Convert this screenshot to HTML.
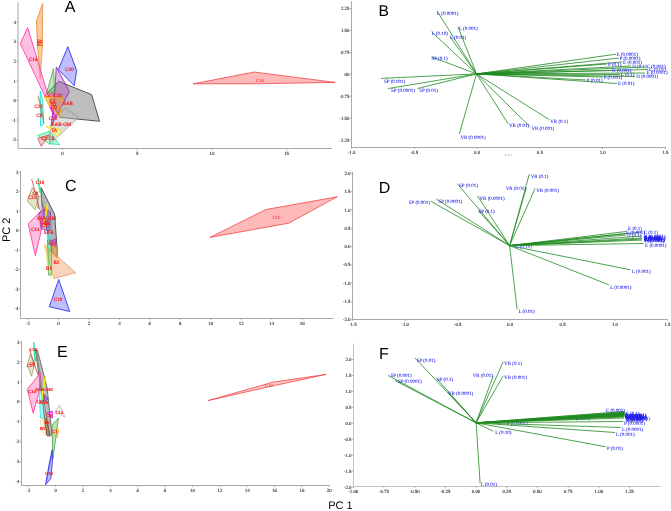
<!DOCTYPE html>
<html><head><meta charset="utf-8"><style>
html,body{margin:0;padding:0;background:#fff;}
body{width:671px;height:511px;overflow:hidden;}
svg{display:block;will-change:transform;text-rendering:geometricPrecision;}
</style></head><body>
<svg width="671" height="511" viewBox="0 0 671 511">
<rect width="671" height="511" fill="#fff"/>
<line x1="18" y1="2.3" x2="18" y2="148.5" stroke="#d0d0d0" stroke-width="2" />
<line x1="18" y1="148.5" x2="332" y2="148.5" stroke="#a8a8a8" stroke-width="1" />
<line x1="16.4" y1="22.3" x2="18" y2="22.3" stroke="#888" stroke-width="0.6" />
<text x="16" y="23.9" font-family="Liberation Serif" font-size="4.9" fill="#1a1a1a" text-anchor="end" stroke="#1a1a1a" stroke-width="0.08">4</text>
<line x1="16.4" y1="41.8" x2="18" y2="41.8" stroke="#888" stroke-width="0.6" />
<text x="16" y="43.4" font-family="Liberation Serif" font-size="4.9" fill="#1a1a1a" text-anchor="end" stroke="#1a1a1a" stroke-width="0.08">3</text>
<line x1="16.4" y1="61.4" x2="18" y2="61.4" stroke="#888" stroke-width="0.6" />
<text x="16" y="63" font-family="Liberation Serif" font-size="4.9" fill="#1a1a1a" text-anchor="end" stroke="#1a1a1a" stroke-width="0.08">2</text>
<line x1="16.4" y1="81" x2="18" y2="81" stroke="#888" stroke-width="0.6" />
<text x="16" y="82.5" font-family="Liberation Serif" font-size="4.9" fill="#1a1a1a" text-anchor="end" stroke="#1a1a1a" stroke-width="0.08">1</text>
<line x1="16.4" y1="100.5" x2="18" y2="100.5" stroke="#888" stroke-width="0.6" />
<text x="16" y="102.1" font-family="Liberation Serif" font-size="4.9" fill="#1a1a1a" text-anchor="end" stroke="#1a1a1a" stroke-width="0.08">0</text>
<line x1="16.4" y1="120" x2="18" y2="120" stroke="#888" stroke-width="0.6" />
<text x="16" y="121.6" font-family="Liberation Serif" font-size="4.9" fill="#1a1a1a" text-anchor="end" stroke="#1a1a1a" stroke-width="0.08">-1</text>
<line x1="16.4" y1="139.6" x2="18" y2="139.6" stroke="#888" stroke-width="0.6" />
<text x="16" y="141.2" font-family="Liberation Serif" font-size="4.9" fill="#1a1a1a" text-anchor="end" stroke="#1a1a1a" stroke-width="0.08">-2</text>
<line x1="62.6" y1="148.5" x2="62.6" y2="150.1" stroke="#888" stroke-width="0.6" />
<text x="62.6" y="154.7" font-family="Liberation Serif" font-size="4.9" fill="#1a1a1a" text-anchor="middle" stroke="#1a1a1a" stroke-width="0.08">0</text>
<line x1="137.2" y1="148.5" x2="137.2" y2="150.1" stroke="#888" stroke-width="0.6" />
<text x="137.2" y="154.7" font-family="Liberation Serif" font-size="4.9" fill="#1a1a1a" text-anchor="middle" stroke="#1a1a1a" stroke-width="0.08">5</text>
<line x1="211.9" y1="148.5" x2="211.9" y2="150.1" stroke="#888" stroke-width="0.6" />
<text x="211.9" y="154.7" font-family="Liberation Serif" font-size="4.9" fill="#1a1a1a" text-anchor="middle" stroke="#1a1a1a" stroke-width="0.08">10</text>
<line x1="286.6" y1="148.5" x2="286.6" y2="150.1" stroke="#888" stroke-width="0.6" />
<text x="286.6" y="154.7" font-family="Liberation Serif" font-size="4.9" fill="#1a1a1a" text-anchor="middle" stroke="#1a1a1a" stroke-width="0.08">15</text>
<line x1="20.5" y1="171" x2="20.5" y2="318.5" stroke="#a8a8a8" stroke-width="1" />
<line x1="20.5" y1="318.5" x2="333.5" y2="318.5" stroke="#a8a8a8" stroke-width="1" />
<line x1="18.9" y1="172.2" x2="20.5" y2="172.2" stroke="#888" stroke-width="0.6" />
<text x="18.5" y="173.8" font-family="Liberation Serif" font-size="4.9" fill="#1a1a1a" text-anchor="end" stroke="#1a1a1a" stroke-width="0.08">3</text>
<line x1="18.9" y1="191.7" x2="20.5" y2="191.7" stroke="#888" stroke-width="0.6" />
<text x="18.5" y="193.3" font-family="Liberation Serif" font-size="4.9" fill="#1a1a1a" text-anchor="end" stroke="#1a1a1a" stroke-width="0.08">2</text>
<line x1="18.9" y1="211.2" x2="20.5" y2="211.2" stroke="#888" stroke-width="0.6" />
<text x="18.5" y="212.8" font-family="Liberation Serif" font-size="4.9" fill="#1a1a1a" text-anchor="end" stroke="#1a1a1a" stroke-width="0.08">1</text>
<line x1="18.9" y1="230.6" x2="20.5" y2="230.6" stroke="#888" stroke-width="0.6" />
<text x="18.5" y="232.2" font-family="Liberation Serif" font-size="4.9" fill="#1a1a1a" text-anchor="end" stroke="#1a1a1a" stroke-width="0.08">0</text>
<line x1="18.9" y1="250" x2="20.5" y2="250" stroke="#888" stroke-width="0.6" />
<text x="18.5" y="251.6" font-family="Liberation Serif" font-size="4.9" fill="#1a1a1a" text-anchor="end" stroke="#1a1a1a" stroke-width="0.08">-1</text>
<line x1="18.9" y1="269.5" x2="20.5" y2="269.5" stroke="#888" stroke-width="0.6" />
<text x="18.5" y="271.1" font-family="Liberation Serif" font-size="4.9" fill="#1a1a1a" text-anchor="end" stroke="#1a1a1a" stroke-width="0.08">-2</text>
<line x1="18.9" y1="288.9" x2="20.5" y2="288.9" stroke="#888" stroke-width="0.6" />
<text x="18.5" y="290.6" font-family="Liberation Serif" font-size="4.9" fill="#1a1a1a" text-anchor="end" stroke="#1a1a1a" stroke-width="0.08">-3</text>
<line x1="18.9" y1="308.4" x2="20.5" y2="308.4" stroke="#888" stroke-width="0.6" />
<text x="18.5" y="310" font-family="Liberation Serif" font-size="4.9" fill="#1a1a1a" text-anchor="end" stroke="#1a1a1a" stroke-width="0.08">-4</text>
<line x1="27.9" y1="318.5" x2="27.9" y2="320.1" stroke="#888" stroke-width="0.6" />
<text x="27.9" y="324.7" font-family="Liberation Serif" font-size="4.9" fill="#1a1a1a" text-anchor="middle" stroke="#1a1a1a" stroke-width="0.08">-2</text>
<line x1="58.4" y1="318.5" x2="58.4" y2="320.1" stroke="#888" stroke-width="0.6" />
<text x="58.4" y="324.7" font-family="Liberation Serif" font-size="4.9" fill="#1a1a1a" text-anchor="middle" stroke="#1a1a1a" stroke-width="0.08">0</text>
<line x1="88.9" y1="318.5" x2="88.9" y2="320.1" stroke="#888" stroke-width="0.6" />
<text x="88.9" y="324.7" font-family="Liberation Serif" font-size="4.9" fill="#1a1a1a" text-anchor="middle" stroke="#1a1a1a" stroke-width="0.08">2</text>
<line x1="119.4" y1="318.5" x2="119.4" y2="320.1" stroke="#888" stroke-width="0.6" />
<text x="119.4" y="324.7" font-family="Liberation Serif" font-size="4.9" fill="#1a1a1a" text-anchor="middle" stroke="#1a1a1a" stroke-width="0.08">4</text>
<line x1="149.8" y1="318.5" x2="149.8" y2="320.1" stroke="#888" stroke-width="0.6" />
<text x="149.8" y="324.7" font-family="Liberation Serif" font-size="4.9" fill="#1a1a1a" text-anchor="middle" stroke="#1a1a1a" stroke-width="0.08">6</text>
<line x1="180.3" y1="318.5" x2="180.3" y2="320.1" stroke="#888" stroke-width="0.6" />
<text x="180.3" y="324.7" font-family="Liberation Serif" font-size="4.9" fill="#1a1a1a" text-anchor="middle" stroke="#1a1a1a" stroke-width="0.08">8</text>
<line x1="210.8" y1="318.5" x2="210.8" y2="320.1" stroke="#888" stroke-width="0.6" />
<text x="210.8" y="324.7" font-family="Liberation Serif" font-size="4.9" fill="#1a1a1a" text-anchor="middle" stroke="#1a1a1a" stroke-width="0.08">10</text>
<line x1="241.3" y1="318.5" x2="241.3" y2="320.1" stroke="#888" stroke-width="0.6" />
<text x="241.3" y="324.7" font-family="Liberation Serif" font-size="4.9" fill="#1a1a1a" text-anchor="middle" stroke="#1a1a1a" stroke-width="0.08">12</text>
<line x1="271.8" y1="318.5" x2="271.8" y2="320.1" stroke="#888" stroke-width="0.6" />
<text x="271.8" y="324.7" font-family="Liberation Serif" font-size="4.9" fill="#1a1a1a" text-anchor="middle" stroke="#1a1a1a" stroke-width="0.08">14</text>
<line x1="302.2" y1="318.5" x2="302.2" y2="320.1" stroke="#888" stroke-width="0.6" />
<text x="302.2" y="324.7" font-family="Liberation Serif" font-size="4.9" fill="#1a1a1a" text-anchor="middle" stroke="#1a1a1a" stroke-width="0.08">16</text>
<line x1="21.5" y1="341" x2="21.5" y2="485.5" stroke="#a8a8a8" stroke-width="1" />
<line x1="21.5" y1="485.5" x2="329.5" y2="485.5" stroke="#a8a8a8" stroke-width="1" />
<line x1="19.9" y1="342" x2="21.5" y2="342" stroke="#888" stroke-width="0.6" />
<text x="19.5" y="343.6" font-family="Liberation Serif" font-size="4.9" fill="#1a1a1a" text-anchor="end" stroke="#1a1a1a" stroke-width="0.08">3</text>
<line x1="19.9" y1="361.9" x2="21.5" y2="361.9" stroke="#888" stroke-width="0.6" />
<text x="19.5" y="363.5" font-family="Liberation Serif" font-size="4.9" fill="#1a1a1a" text-anchor="end" stroke="#1a1a1a" stroke-width="0.08">2</text>
<line x1="19.9" y1="381.9" x2="21.5" y2="381.9" stroke="#888" stroke-width="0.6" />
<text x="19.5" y="383.5" font-family="Liberation Serif" font-size="4.9" fill="#1a1a1a" text-anchor="end" stroke="#1a1a1a" stroke-width="0.08">1</text>
<line x1="19.9" y1="401.8" x2="21.5" y2="401.8" stroke="#888" stroke-width="0.6" />
<text x="19.5" y="403.4" font-family="Liberation Serif" font-size="4.9" fill="#1a1a1a" text-anchor="end" stroke="#1a1a1a" stroke-width="0.08">0</text>
<line x1="19.9" y1="421.7" x2="21.5" y2="421.7" stroke="#888" stroke-width="0.6" />
<text x="19.5" y="423.3" font-family="Liberation Serif" font-size="4.9" fill="#1a1a1a" text-anchor="end" stroke="#1a1a1a" stroke-width="0.08">-1</text>
<line x1="19.9" y1="441.7" x2="21.5" y2="441.7" stroke="#888" stroke-width="0.6" />
<text x="19.5" y="443.3" font-family="Liberation Serif" font-size="4.9" fill="#1a1a1a" text-anchor="end" stroke="#1a1a1a" stroke-width="0.08">-2</text>
<line x1="19.9" y1="461.6" x2="21.5" y2="461.6" stroke="#888" stroke-width="0.6" />
<text x="19.5" y="463.2" font-family="Liberation Serif" font-size="4.9" fill="#1a1a1a" text-anchor="end" stroke="#1a1a1a" stroke-width="0.08">-3</text>
<line x1="19.9" y1="481.5" x2="21.5" y2="481.5" stroke="#888" stroke-width="0.6" />
<text x="19.5" y="483.1" font-family="Liberation Serif" font-size="4.9" fill="#1a1a1a" text-anchor="end" stroke="#1a1a1a" stroke-width="0.08">-4</text>
<line x1="28.3" y1="485.5" x2="28.3" y2="487.1" stroke="#888" stroke-width="0.6" />
<text x="28.3" y="491.7" font-family="Liberation Serif" font-size="4.9" fill="#1a1a1a" text-anchor="middle" stroke="#1a1a1a" stroke-width="0.08">-2</text>
<line x1="55.7" y1="485.5" x2="55.7" y2="487.1" stroke="#888" stroke-width="0.6" />
<text x="55.7" y="491.7" font-family="Liberation Serif" font-size="4.9" fill="#1a1a1a" text-anchor="middle" stroke="#1a1a1a" stroke-width="0.08">0</text>
<line x1="83.1" y1="485.5" x2="83.1" y2="487.1" stroke="#888" stroke-width="0.6" />
<text x="83.1" y="491.7" font-family="Liberation Serif" font-size="4.9" fill="#1a1a1a" text-anchor="middle" stroke="#1a1a1a" stroke-width="0.08">2</text>
<line x1="110.4" y1="485.5" x2="110.4" y2="487.1" stroke="#888" stroke-width="0.6" />
<text x="110.4" y="491.7" font-family="Liberation Serif" font-size="4.9" fill="#1a1a1a" text-anchor="middle" stroke="#1a1a1a" stroke-width="0.08">4</text>
<line x1="137.8" y1="485.5" x2="137.8" y2="487.1" stroke="#888" stroke-width="0.6" />
<text x="137.8" y="491.7" font-family="Liberation Serif" font-size="4.9" fill="#1a1a1a" text-anchor="middle" stroke="#1a1a1a" stroke-width="0.08">6</text>
<line x1="165.1" y1="485.5" x2="165.1" y2="487.1" stroke="#888" stroke-width="0.6" />
<text x="165.1" y="491.7" font-family="Liberation Serif" font-size="4.9" fill="#1a1a1a" text-anchor="middle" stroke="#1a1a1a" stroke-width="0.08">8</text>
<line x1="192.5" y1="485.5" x2="192.5" y2="487.1" stroke="#888" stroke-width="0.6" />
<text x="192.5" y="491.7" font-family="Liberation Serif" font-size="4.9" fill="#1a1a1a" text-anchor="middle" stroke="#1a1a1a" stroke-width="0.08">10</text>
<line x1="219.9" y1="485.5" x2="219.9" y2="487.1" stroke="#888" stroke-width="0.6" />
<text x="219.9" y="491.7" font-family="Liberation Serif" font-size="4.9" fill="#1a1a1a" text-anchor="middle" stroke="#1a1a1a" stroke-width="0.08">12</text>
<line x1="247.2" y1="485.5" x2="247.2" y2="487.1" stroke="#888" stroke-width="0.6" />
<text x="247.2" y="491.7" font-family="Liberation Serif" font-size="4.9" fill="#1a1a1a" text-anchor="middle" stroke="#1a1a1a" stroke-width="0.08">14</text>
<line x1="274.6" y1="485.5" x2="274.6" y2="487.1" stroke="#888" stroke-width="0.6" />
<text x="274.6" y="491.7" font-family="Liberation Serif" font-size="4.9" fill="#1a1a1a" text-anchor="middle" stroke="#1a1a1a" stroke-width="0.08">16</text>
<line x1="301.9" y1="485.5" x2="301.9" y2="487.1" stroke="#888" stroke-width="0.6" />
<text x="301.9" y="491.7" font-family="Liberation Serif" font-size="4.9" fill="#1a1a1a" text-anchor="middle" stroke="#1a1a1a" stroke-width="0.08">18</text>
<line x1="329.3" y1="485.5" x2="329.3" y2="487.1" stroke="#888" stroke-width="0.6" />
<text x="329.3" y="491.7" font-family="Liberation Serif" font-size="4.9" fill="#1a1a1a" text-anchor="middle" stroke="#1a1a1a" stroke-width="0.08">20</text>
<line x1="351.5" y1="1.1" x2="351.5" y2="147.5" stroke="#a8a8a8" stroke-width="1" />
<line x1="351.5" y1="147.5" x2="666" y2="147.5" stroke="#a8a8a8" stroke-width="1" />
<line x1="349.9" y1="8.6" x2="351.5" y2="8.6" stroke="#888" stroke-width="0.6" />
<text x="349.5" y="10.2" font-family="Liberation Serif" font-size="4.9" fill="#1a1a1a" text-anchor="end" stroke="#1a1a1a" stroke-width="0.08">2.25</text>
<line x1="349.9" y1="30.5" x2="351.5" y2="30.5" stroke="#888" stroke-width="0.6" />
<text x="349.5" y="32.1" font-family="Liberation Serif" font-size="4.9" fill="#1a1a1a" text-anchor="end" stroke="#1a1a1a" stroke-width="0.08">1.50</text>
<line x1="349.9" y1="52.4" x2="351.5" y2="52.4" stroke="#888" stroke-width="0.6" />
<text x="349.5" y="54" font-family="Liberation Serif" font-size="4.9" fill="#1a1a1a" text-anchor="end" stroke="#1a1a1a" stroke-width="0.08">0.75</text>
<line x1="349.9" y1="74.3" x2="351.5" y2="74.3" stroke="#888" stroke-width="0.6" />
<text x="349.5" y="75.9" font-family="Liberation Serif" font-size="4.9" fill="#1a1a1a" text-anchor="end" stroke="#1a1a1a" stroke-width="0.08">00</text>
<line x1="349.9" y1="96.2" x2="351.5" y2="96.2" stroke="#888" stroke-width="0.6" />
<text x="349.5" y="97.8" font-family="Liberation Serif" font-size="4.9" fill="#1a1a1a" text-anchor="end" stroke="#1a1a1a" stroke-width="0.08">-0.75</text>
<line x1="349.9" y1="118.1" x2="351.5" y2="118.1" stroke="#888" stroke-width="0.6" />
<text x="349.5" y="119.7" font-family="Liberation Serif" font-size="4.9" fill="#1a1a1a" text-anchor="end" stroke="#1a1a1a" stroke-width="0.08">-1.50</text>
<line x1="349.9" y1="140" x2="351.5" y2="140" stroke="#888" stroke-width="0.6" />
<text x="349.5" y="141.6" font-family="Liberation Serif" font-size="4.9" fill="#1a1a1a" text-anchor="end" stroke="#1a1a1a" stroke-width="0.08">-2.25</text>
<line x1="351.5" y1="147.5" x2="351.5" y2="149.1" stroke="#888" stroke-width="0.6" />
<text x="351.5" y="153.7" font-family="Liberation Serif" font-size="4.9" fill="#1a1a1a" text-anchor="middle" stroke="#1a1a1a" stroke-width="0.08">-1.0</text>
<line x1="414.3" y1="147.5" x2="414.3" y2="149.1" stroke="#888" stroke-width="0.6" />
<text x="414.3" y="153.7" font-family="Liberation Serif" font-size="4.9" fill="#1a1a1a" text-anchor="middle" stroke="#1a1a1a" stroke-width="0.08">-0.5</text>
<line x1="477.1" y1="147.5" x2="477.1" y2="149.1" stroke="#888" stroke-width="0.6" />
<text x="477.1" y="153.7" font-family="Liberation Serif" font-size="4.9" fill="#1a1a1a" text-anchor="middle" stroke="#1a1a1a" stroke-width="0.08">0.0</text>
<line x1="539.9" y1="147.5" x2="539.9" y2="149.1" stroke="#888" stroke-width="0.6" />
<text x="539.9" y="153.7" font-family="Liberation Serif" font-size="4.9" fill="#1a1a1a" text-anchor="middle" stroke="#1a1a1a" stroke-width="0.08">0.5</text>
<line x1="602.7" y1="147.5" x2="602.7" y2="149.1" stroke="#888" stroke-width="0.6" />
<text x="602.7" y="153.7" font-family="Liberation Serif" font-size="4.9" fill="#1a1a1a" text-anchor="middle" stroke="#1a1a1a" stroke-width="0.08">1.0</text>
<line x1="665.5" y1="147.5" x2="665.5" y2="149.1" stroke="#888" stroke-width="0.6" />
<text x="665.5" y="153.7" font-family="Liberation Serif" font-size="4.9" fill="#1a1a1a" text-anchor="middle" stroke="#1a1a1a" stroke-width="0.08">1.5</text>
<line x1="352.5" y1="172" x2="352.5" y2="319.5" stroke="#a8a8a8" stroke-width="1" />
<line x1="352.5" y1="319.5" x2="667.5" y2="319.5" stroke="#a8a8a8" stroke-width="1" />
<line x1="350.9" y1="173.3" x2="352.5" y2="173.3" stroke="#888" stroke-width="0.6" />
<text x="350.5" y="174.9" font-family="Liberation Serif" font-size="4.9" fill="#1a1a1a" text-anchor="end" stroke="#1a1a1a" stroke-width="0.08">2.0</text>
<line x1="350.9" y1="191.6" x2="352.5" y2="191.6" stroke="#888" stroke-width="0.6" />
<text x="350.5" y="193.2" font-family="Liberation Serif" font-size="4.9" fill="#1a1a1a" text-anchor="end" stroke="#1a1a1a" stroke-width="0.08">1.5</text>
<line x1="350.9" y1="209.9" x2="352.5" y2="209.9" stroke="#888" stroke-width="0.6" />
<text x="350.5" y="211.5" font-family="Liberation Serif" font-size="4.9" fill="#1a1a1a" text-anchor="end" stroke="#1a1a1a" stroke-width="0.08">1.0</text>
<line x1="350.9" y1="228.2" x2="352.5" y2="228.2" stroke="#888" stroke-width="0.6" />
<text x="350.5" y="229.8" font-family="Liberation Serif" font-size="4.9" fill="#1a1a1a" text-anchor="end" stroke="#1a1a1a" stroke-width="0.08">0.5</text>
<line x1="350.9" y1="246.5" x2="352.5" y2="246.5" stroke="#888" stroke-width="0.6" />
<text x="350.5" y="248.1" font-family="Liberation Serif" font-size="4.9" fill="#1a1a1a" text-anchor="end" stroke="#1a1a1a" stroke-width="0.08">0.0</text>
<line x1="350.9" y1="264.8" x2="352.5" y2="264.8" stroke="#888" stroke-width="0.6" />
<text x="350.5" y="266.4" font-family="Liberation Serif" font-size="4.9" fill="#1a1a1a" text-anchor="end" stroke="#1a1a1a" stroke-width="0.08">-0.5</text>
<line x1="350.9" y1="283.1" x2="352.5" y2="283.1" stroke="#888" stroke-width="0.6" />
<text x="350.5" y="284.7" font-family="Liberation Serif" font-size="4.9" fill="#1a1a1a" text-anchor="end" stroke="#1a1a1a" stroke-width="0.08">-1.0</text>
<line x1="350.9" y1="301.4" x2="352.5" y2="301.4" stroke="#888" stroke-width="0.6" />
<text x="350.5" y="303" font-family="Liberation Serif" font-size="4.9" fill="#1a1a1a" text-anchor="end" stroke="#1a1a1a" stroke-width="0.08">-1.5</text>
<line x1="350.9" y1="319.7" x2="352.5" y2="319.7" stroke="#888" stroke-width="0.6" />
<text x="350.5" y="321.3" font-family="Liberation Serif" font-size="4.9" fill="#1a1a1a" text-anchor="end" stroke="#1a1a1a" stroke-width="0.08">-2.0</text>
<line x1="352.8" y1="319.5" x2="352.8" y2="321.1" stroke="#888" stroke-width="0.6" />
<text x="352.8" y="325.7" font-family="Liberation Serif" font-size="4.9" fill="#1a1a1a" text-anchor="middle" stroke="#1a1a1a" stroke-width="0.08">-1.5</text>
<line x1="405.2" y1="319.5" x2="405.2" y2="321.1" stroke="#888" stroke-width="0.6" />
<text x="405.2" y="325.7" font-family="Liberation Serif" font-size="4.9" fill="#1a1a1a" text-anchor="middle" stroke="#1a1a1a" stroke-width="0.08">-1.0</text>
<line x1="457.7" y1="319.5" x2="457.7" y2="321.1" stroke="#888" stroke-width="0.6" />
<text x="457.7" y="325.7" font-family="Liberation Serif" font-size="4.9" fill="#1a1a1a" text-anchor="middle" stroke="#1a1a1a" stroke-width="0.08">-0.5</text>
<line x1="510.1" y1="319.5" x2="510.1" y2="321.1" stroke="#888" stroke-width="0.6" />
<text x="510.1" y="325.7" font-family="Liberation Serif" font-size="4.9" fill="#1a1a1a" text-anchor="middle" stroke="#1a1a1a" stroke-width="0.08">0.0</text>
<line x1="562.6" y1="319.5" x2="562.6" y2="321.1" stroke="#888" stroke-width="0.6" />
<text x="562.6" y="325.7" font-family="Liberation Serif" font-size="4.9" fill="#1a1a1a" text-anchor="middle" stroke="#1a1a1a" stroke-width="0.08">0.5</text>
<line x1="615" y1="319.5" x2="615" y2="321.1" stroke="#888" stroke-width="0.6" />
<text x="615" y="325.7" font-family="Liberation Serif" font-size="4.9" fill="#1a1a1a" text-anchor="middle" stroke="#1a1a1a" stroke-width="0.08">1.0</text>
<line x1="667.5" y1="319.5" x2="667.5" y2="321.1" stroke="#888" stroke-width="0.6" />
<text x="667.5" y="325.7" font-family="Liberation Serif" font-size="4.9" fill="#1a1a1a" text-anchor="middle" stroke="#1a1a1a" stroke-width="0.08">1.5</text>
<line x1="353.5" y1="343.6" x2="353.5" y2="486.5" stroke="#c4c4c4" stroke-width="1" />
<line x1="353.5" y1="486.5" x2="660.6" y2="486.5" stroke="#c4c4c4" stroke-width="1" />
<line x1="351.9" y1="359.5" x2="353.5" y2="359.5" stroke="#888" stroke-width="0.6" />
<text x="351.5" y="361.1" font-family="Liberation Serif" font-size="4.9" fill="#1a1a1a" text-anchor="end" stroke="#1a1a1a" stroke-width="0.08">2.0</text>
<line x1="351.9" y1="375.5" x2="353.5" y2="375.5" stroke="#888" stroke-width="0.6" />
<text x="351.5" y="377.1" font-family="Liberation Serif" font-size="4.9" fill="#1a1a1a" text-anchor="end" stroke="#1a1a1a" stroke-width="0.08">1.5</text>
<line x1="351.9" y1="391.4" x2="353.5" y2="391.4" stroke="#888" stroke-width="0.6" />
<text x="351.5" y="393" font-family="Liberation Serif" font-size="4.9" fill="#1a1a1a" text-anchor="end" stroke="#1a1a1a" stroke-width="0.08">1.0</text>
<line x1="351.9" y1="407.4" x2="353.5" y2="407.4" stroke="#888" stroke-width="0.6" />
<text x="351.5" y="409" font-family="Liberation Serif" font-size="4.9" fill="#1a1a1a" text-anchor="end" stroke="#1a1a1a" stroke-width="0.08">0.5</text>
<line x1="351.9" y1="423.3" x2="353.5" y2="423.3" stroke="#888" stroke-width="0.6" />
<text x="351.5" y="424.9" font-family="Liberation Serif" font-size="4.9" fill="#1a1a1a" text-anchor="end" stroke="#1a1a1a" stroke-width="0.08">0.0</text>
<line x1="351.9" y1="439.2" x2="353.5" y2="439.2" stroke="#888" stroke-width="0.6" />
<text x="351.5" y="440.9" font-family="Liberation Serif" font-size="4.9" fill="#1a1a1a" text-anchor="end" stroke="#1a1a1a" stroke-width="0.08">-0.5</text>
<line x1="351.9" y1="455.2" x2="353.5" y2="455.2" stroke="#888" stroke-width="0.6" />
<text x="351.5" y="456.8" font-family="Liberation Serif" font-size="4.9" fill="#1a1a1a" text-anchor="end" stroke="#1a1a1a" stroke-width="0.08">-1.0</text>
<line x1="351.9" y1="471.1" x2="353.5" y2="471.1" stroke="#888" stroke-width="0.6" />
<text x="351.5" y="472.8" font-family="Liberation Serif" font-size="4.9" fill="#1a1a1a" text-anchor="end" stroke="#1a1a1a" stroke-width="0.08">-1.5</text>
<line x1="351.9" y1="487.1" x2="353.5" y2="487.1" stroke="#888" stroke-width="0.6" />
<text x="351.5" y="488.7" font-family="Liberation Serif" font-size="4.9" fill="#1a1a1a" text-anchor="end" stroke="#1a1a1a" stroke-width="0.08">-2.0</text>
<line x1="353.2" y1="486.5" x2="353.2" y2="488.1" stroke="#888" stroke-width="0.6" />
<text x="353.2" y="492.7" font-family="Liberation Serif" font-size="4.9" fill="#1a1a1a" text-anchor="middle" stroke="#1a1a1a" stroke-width="0.08">-1.00</text>
<line x1="383.9" y1="486.5" x2="383.9" y2="488.1" stroke="#888" stroke-width="0.6" />
<text x="383.9" y="492.7" font-family="Liberation Serif" font-size="4.9" fill="#1a1a1a" text-anchor="middle" stroke="#1a1a1a" stroke-width="0.08">-0.75</text>
<line x1="414.6" y1="486.5" x2="414.6" y2="488.1" stroke="#888" stroke-width="0.6" />
<text x="414.6" y="492.7" font-family="Liberation Serif" font-size="4.9" fill="#1a1a1a" text-anchor="middle" stroke="#1a1a1a" stroke-width="0.08">-0.50</text>
<line x1="445.3" y1="486.5" x2="445.3" y2="488.1" stroke="#888" stroke-width="0.6" />
<text x="445.3" y="492.7" font-family="Liberation Serif" font-size="4.9" fill="#1a1a1a" text-anchor="middle" stroke="#1a1a1a" stroke-width="0.08">-0.25</text>
<line x1="476" y1="486.5" x2="476" y2="488.1" stroke="#888" stroke-width="0.6" />
<text x="476" y="492.7" font-family="Liberation Serif" font-size="4.9" fill="#1a1a1a" text-anchor="middle" stroke="#1a1a1a" stroke-width="0.08">0.00</text>
<line x1="506.7" y1="486.5" x2="506.7" y2="488.1" stroke="#888" stroke-width="0.6" />
<text x="506.7" y="492.7" font-family="Liberation Serif" font-size="4.9" fill="#1a1a1a" text-anchor="middle" stroke="#1a1a1a" stroke-width="0.08">0.25</text>
<line x1="537.4" y1="486.5" x2="537.4" y2="488.1" stroke="#888" stroke-width="0.6" />
<text x="537.4" y="492.7" font-family="Liberation Serif" font-size="4.9" fill="#1a1a1a" text-anchor="middle" stroke="#1a1a1a" stroke-width="0.08">0.50</text>
<line x1="568.1" y1="486.5" x2="568.1" y2="488.1" stroke="#888" stroke-width="0.6" />
<text x="568.1" y="492.7" font-family="Liberation Serif" font-size="4.9" fill="#1a1a1a" text-anchor="middle" stroke="#1a1a1a" stroke-width="0.08">0.75</text>
<line x1="598.8" y1="486.5" x2="598.8" y2="488.1" stroke="#888" stroke-width="0.6" />
<text x="598.8" y="492.7" font-family="Liberation Serif" font-size="4.9" fill="#1a1a1a" text-anchor="middle" stroke="#1a1a1a" stroke-width="0.08">1.00</text>
<line x1="629.5" y1="486.5" x2="629.5" y2="488.1" stroke="#888" stroke-width="0.6" />
<text x="629.5" y="492.7" font-family="Liberation Serif" font-size="4.9" fill="#1a1a1a" text-anchor="middle" stroke="#1a1a1a" stroke-width="0.08">1.25</text>
<text x="508" y="156.3" font-family="Liberation Serif" font-size="3" fill="#777" text-anchor="middle" >Axis 1</text>
<text x="64.8" y="11.9" font-family="Liberation Sans" font-size="16" fill="#000" text-anchor="start" >A</text>
<text x="378.5" y="16.1" font-family="Liberation Sans" font-size="15.6" fill="#000" text-anchor="start" >B</text>
<text x="65" y="191.2" font-family="Liberation Sans" font-size="16" fill="#000" text-anchor="start" >C</text>
<text x="378.8" y="193.2" font-family="Liberation Sans" font-size="16" fill="#000" text-anchor="start" >D</text>
<text x="56.9" y="356.6" font-family="Liberation Sans" font-size="16" fill="#000" text-anchor="start" >E</text>
<text x="379" y="359.3" font-family="Liberation Sans" font-size="16" fill="#000" text-anchor="start" >F</text>
<text x="328.2" y="509.1" font-family="Liberation Sans" font-size="11" fill="#000" text-anchor="start" >PC 1</text>
<text transform="translate(9.8,242.1) rotate(-90)" font-family="Liberation Sans" font-size="11" fill="#000">PC 2</text>
<line x1="476.5" y1="73.9" x2="437.1" y2="11.1" stroke="#1f8a1f" stroke-width="0.8" />
<text x="437.1" y="14.6" font-family="Liberation Serif" font-size="5.0" fill="#2020e8" text-anchor="start" stroke="#2020e8" stroke-width="0.06">L (0.0001)</text>
<line x1="476.5" y1="73.9" x2="458" y2="26.8" stroke="#1f8a1f" stroke-width="0.8" />
<text x="458.9" y="30.1" font-family="Liberation Serif" font-size="5.0" fill="#2020e8" text-anchor="start" stroke="#2020e8" stroke-width="0.06">L (0.001)</text>
<line x1="476.5" y1="73.9" x2="431.7" y2="31.8" stroke="#1f8a1f" stroke-width="0.8" />
<text x="431.7" y="34.6" font-family="Liberation Serif" font-size="5.0" fill="#2020e8" text-anchor="start" stroke="#2020e8" stroke-width="0.06">L (0.10)</text>
<line x1="476.5" y1="73.9" x2="450" y2="36.7" stroke="#1f8a1f" stroke-width="0.8" />
<text x="450" y="39.4" font-family="Liberation Serif" font-size="5.0" fill="#2020e8" text-anchor="start" stroke="#2020e8" stroke-width="0.06">L (0.01)</text>
<line x1="476.5" y1="73.9" x2="431.4" y2="56.9" stroke="#1f8a1f" stroke-width="0.8" />
<text x="431.4" y="59.6" font-family="Liberation Serif" font-size="5.0" fill="#2020e8" text-anchor="start" stroke="#2020e8" stroke-width="0.06">SP (0.1)</text>
<line x1="476.5" y1="73.9" x2="381.1" y2="78.4" stroke="#1f8a1f" stroke-width="0.8" />
<text x="384" y="82.6" font-family="Liberation Serif" font-size="5.0" fill="#2020e8" text-anchor="start" stroke="#2020e8" stroke-width="0.06">SP (0.001)</text>
<line x1="476.5" y1="73.9" x2="387.9" y2="88.6" stroke="#1f8a1f" stroke-width="0.8" />
<text x="391.1" y="92.3" font-family="Liberation Serif" font-size="5.0" fill="#2020e8" text-anchor="start" stroke="#2020e8" stroke-width="0.06">SP (0.0001)</text>
<line x1="476.5" y1="73.9" x2="417.4" y2="88.6" stroke="#1f8a1f" stroke-width="0.8" />
<text x="419.2" y="92.3" font-family="Liberation Serif" font-size="5.0" fill="#2020e8" text-anchor="start" stroke="#2020e8" stroke-width="0.06">SP (0.01)</text>
<line x1="476.5" y1="73.9" x2="459.3" y2="134" stroke="#1f8a1f" stroke-width="0.8" />
<text x="460.4" y="138.6" font-family="Liberation Serif" font-size="5.0" fill="#2020e8" text-anchor="start" stroke="#2020e8" stroke-width="0.06">VR (0.0001)</text>
<line x1="476.5" y1="73.9" x2="508.1" y2="123.7" stroke="#1f8a1f" stroke-width="0.8" />
<text x="509" y="127.3" font-family="Liberation Serif" font-size="5.0" fill="#2020e8" text-anchor="start" stroke="#2020e8" stroke-width="0.06">VR (0.01)</text>
<line x1="476.5" y1="73.9" x2="529.6" y2="126.4" stroke="#1f8a1f" stroke-width="0.8" />
<text x="531.4" y="130.2" font-family="Liberation Serif" font-size="5.0" fill="#2020e8" text-anchor="start" stroke="#2020e8" stroke-width="0.06">VR (0.001)</text>
<line x1="476.5" y1="73.9" x2="549.3" y2="119.7" stroke="#1f8a1f" stroke-width="0.8" />
<text x="550.2" y="123.4" font-family="Liberation Serif" font-size="5.0" fill="#2020e8" text-anchor="start" stroke="#2020e8" stroke-width="0.06">VR (0.1)</text>
<line x1="476.5" y1="73.9" x2="615.9" y2="54.2" stroke="#1f8a1f" stroke-width="0.8" />
<text x="616.6" y="55.7" font-family="Liberation Serif" font-size="5.0" fill="#2020e8" text-anchor="start" stroke="#2020e8" stroke-width="0.06">E (0.0001)</text>
<line x1="476.5" y1="73.9" x2="619" y2="58" stroke="#1f8a1f" stroke-width="0.8" />
<text x="619.6" y="59.7" font-family="Liberation Serif" font-size="5.0" fill="#2020e8" text-anchor="start" stroke="#2020e8" stroke-width="0.06">P (0.0001)</text>
<line x1="476.5" y1="73.9" x2="622" y2="62" stroke="#1f8a1f" stroke-width="0.8" />
<text x="623.1" y="63.9" font-family="Liberation Serif" font-size="5.0" fill="#2020e8" text-anchor="start" stroke="#2020e8" stroke-width="0.06">E (0.001)</text>
<line x1="476.5" y1="73.9" x2="607" y2="64" stroke="#1f8a1f" stroke-width="0.8" />
<text x="608.1" y="65.5" font-family="Liberation Serif" font-size="5.0" fill="#2020e8" text-anchor="start" stroke="#2020e8" stroke-width="0.06">P (0.1)</text>
<line x1="476.5" y1="73.9" x2="631" y2="66" stroke="#1f8a1f" stroke-width="0.8" />
<text x="632.2" y="67.9" font-family="Liberation Serif" font-size="5.0" fill="#2020e8" text-anchor="start" stroke="#2020e8" stroke-width="0.06">N (0.1)</text>
<line x1="476.5" y1="73.9" x2="645" y2="67" stroke="#1f8a1f" stroke-width="0.8" />
<text x="646.4" y="68.2" font-family="Liberation Serif" font-size="5.0" fill="#2020e8" text-anchor="start" stroke="#2020e8" stroke-width="0.06">C (0.001)</text>
<line x1="476.5" y1="73.9" x2="648" y2="69.5" stroke="#1f8a1f" stroke-width="0.8" />
<text x="649.2" y="70.9" font-family="Liberation Serif" font-size="5.0" fill="#2020e8" text-anchor="start" stroke="#2020e8" stroke-width="0.06">C (0.01)</text>
<line x1="476.5" y1="73.9" x2="611" y2="70.5" stroke="#1f8a1f" stroke-width="0.8" />
<text x="611.9" y="72" font-family="Liberation Serif" font-size="5.0" fill="#2020e8" text-anchor="start" stroke="#2020e8" stroke-width="0.06">N (0.001)</text>
<line x1="476.5" y1="73.9" x2="620" y2="74.5" stroke="#1f8a1f" stroke-width="0.8" />
<text x="620.7" y="76.1" font-family="Liberation Serif" font-size="5.0" fill="#2020e8" text-anchor="start" stroke="#2020e8" stroke-width="0.06">L (0.1)</text>
<line x1="476.5" y1="73.9" x2="645" y2="73" stroke="#1f8a1f" stroke-width="0.8" />
<text x="646.4" y="74.3" font-family="Liberation Serif" font-size="5.0" fill="#2020e8" text-anchor="start" stroke="#2020e8" stroke-width="0.06">E (0.0001)</text>
<line x1="476.5" y1="73.9" x2="635" y2="76.5" stroke="#1f8a1f" stroke-width="0.8" />
<text x="636.3" y="78.1" font-family="Liberation Serif" font-size="5.0" fill="#2020e8" text-anchor="start" stroke="#2020e8" stroke-width="0.06">N (0.0001)</text>
<line x1="476.5" y1="73.9" x2="603" y2="77" stroke="#1f8a1f" stroke-width="0.8" />
<text x="603.7" y="78.6" font-family="Liberation Serif" font-size="5.0" fill="#2020e8" text-anchor="start" stroke="#2020e8" stroke-width="0.06">P (0.001)</text>
<line x1="476.5" y1="73.9" x2="586" y2="80" stroke="#1f8a1f" stroke-width="0.8" />
<text x="586.8" y="81.8" font-family="Liberation Serif" font-size="5.0" fill="#2020e8" text-anchor="start" stroke="#2020e8" stroke-width="0.06">P (0.01)</text>
<line x1="476.5" y1="73.9" x2="617" y2="83.5" stroke="#1f8a1f" stroke-width="0.8" />
<text x="618" y="85.1" font-family="Liberation Serif" font-size="5.0" fill="#2020e8" text-anchor="start" stroke="#2020e8" stroke-width="0.06">E (0.01)</text>
<line x1="509.6" y1="245.6" x2="457.2" y2="183.6" stroke="#1f8a1f" stroke-width="0.8" />
<text x="459.1" y="187.4" font-family="Liberation Serif" font-size="5.0" fill="#2020e8" text-anchor="start" stroke="#2020e8" stroke-width="0.06">SP (0.01)</text>
<line x1="509.6" y1="245.6" x2="436.4" y2="199.1" stroke="#1f8a1f" stroke-width="0.8" />
<text x="438.4" y="202.9" font-family="Liberation Serif" font-size="5.0" fill="#2020e8" text-anchor="start" stroke="#2020e8" stroke-width="0.06">SP (0.0001)</text>
<line x1="509.6" y1="245.6" x2="431" y2="201.4" stroke="#1f8a1f" stroke-width="0.8" />
<text x="430" y="203.5" font-family="Liberation Serif" font-size="5.0" fill="#2020e8" text-anchor="end" stroke="#2020e8" stroke-width="0.06">SP (0.001)</text>
<line x1="509.6" y1="245.6" x2="477.5" y2="195.8" stroke="#1f8a1f" stroke-width="0.8" />
<text x="479.5" y="199.6" font-family="Liberation Serif" font-size="5.0" fill="#2020e8" text-anchor="start" stroke="#2020e8" stroke-width="0.06">VR (0.0001)</text>
<line x1="509.6" y1="245.6" x2="478.5" y2="210.7" stroke="#1f8a1f" stroke-width="0.8" />
<text x="478.5" y="213.2" font-family="Liberation Serif" font-size="5.0" fill="#2020e8" text-anchor="start" stroke="#2020e8" stroke-width="0.06">SP (0.1)</text>
<line x1="509.6" y1="245.6" x2="529.3" y2="174.1" stroke="#1f8a1f" stroke-width="0.8" />
<text x="530.7" y="177.7" font-family="Liberation Serif" font-size="5.0" fill="#2020e8" text-anchor="start" stroke="#2020e8" stroke-width="0.06">VR (0.1)</text>
<line x1="509.6" y1="245.6" x2="526.4" y2="187.7" stroke="#1f8a1f" stroke-width="0.8" />
<text x="526" y="189.5" font-family="Liberation Serif" font-size="5.0" fill="#2020e8" text-anchor="end" stroke="#2020e8" stroke-width="0.06">VR (0.01)</text>
<line x1="509.6" y1="245.6" x2="535.1" y2="188.4" stroke="#1f8a1f" stroke-width="0.8" />
<text x="536.2" y="192" font-family="Liberation Serif" font-size="5.0" fill="#2020e8" text-anchor="start" stroke="#2020e8" stroke-width="0.06">VR (0.001)</text>
<line x1="509.6" y1="245.6" x2="517.1" y2="309.3" stroke="#1f8a1f" stroke-width="0.8" />
<text x="518.4" y="312.9" font-family="Liberation Serif" font-size="5.0" fill="#2020e8" text-anchor="start" stroke="#2020e8" stroke-width="0.06">L (0.01)</text>
<line x1="509.6" y1="245.6" x2="608.9" y2="284.9" stroke="#1f8a1f" stroke-width="0.8" />
<text x="610.2" y="288.5" font-family="Liberation Serif" font-size="5.0" fill="#2020e8" text-anchor="start" stroke="#2020e8" stroke-width="0.06">L (0.0001)</text>
<line x1="509.6" y1="245.6" x2="630.4" y2="269.8" stroke="#1f8a1f" stroke-width="0.8" />
<text x="631.9" y="273.2" font-family="Liberation Serif" font-size="5.0" fill="#2020e8" text-anchor="start" stroke="#2020e8" stroke-width="0.06">L (0.001)</text>
<text x="515.6" y="248.4" font-family="Liberation Serif" font-size="5.0" fill="#2020e8" text-anchor="start" >L (0.10)</text>
<text x="644" y="239.2" font-family="Liberation Serif" font-size="5.0" fill="#2020e8" text-anchor="start" stroke="#2020e8" stroke-width="0.25">C (0.01)</text>
<text x="644.5" y="240.4" font-family="Liberation Serif" font-size="5.0" fill="#2020e8" text-anchor="start" stroke="#2020e8" stroke-width="0.25">P (0.0001)</text>
<text x="645" y="241.5" font-family="Liberation Serif" font-size="5.0" fill="#2020e8" text-anchor="start" stroke="#2020e8" stroke-width="0.25">N (0.001)</text>
<text x="643.8" y="240" font-family="Liberation Serif" font-size="5.0" fill="#2020e8" text-anchor="start" stroke="#2020e8" stroke-width="0.25">E (0.01)</text>
<line x1="509.6" y1="245.6" x2="626" y2="231.5" stroke="#1f8a1f" stroke-width="0.8" />
<text x="628.1" y="229.7" font-family="Liberation Serif" font-size="5.0" fill="#2020e8" text-anchor="start" stroke="#2020e8" stroke-width="0.06">E (0.1)</text>
<line x1="509.6" y1="245.6" x2="642" y2="232" stroke="#1f8a1f" stroke-width="0.8" />
<text x="643.7" y="233.5" font-family="Liberation Serif" font-size="5.0" fill="#2020e8" text-anchor="start" stroke="#2020e8" stroke-width="0.06">C (0.1)</text>
<line x1="509.6" y1="245.6" x2="626" y2="233.5" stroke="#1f8a1f" stroke-width="0.8" />
<text x="626" y="234.1" font-family="Liberation Serif" font-size="5.0" fill="#2020e8" text-anchor="start" stroke="#2020e8" stroke-width="0.06">E (0.001)</text>
<line x1="509.6" y1="245.6" x2="626" y2="235" stroke="#1f8a1f" stroke-width="0.8" />
<text x="627" y="236.8" font-family="Liberation Serif" font-size="5.0" fill="#2020e8" text-anchor="start" stroke="#2020e8" stroke-width="0.06">N (0.1)</text>
<line x1="509.6" y1="245.6" x2="642" y2="236" stroke="#1f8a1f" stroke-width="0.8" />
<text x="643.7" y="238.2" font-family="Liberation Serif" font-size="5.0" fill="#2020e8" text-anchor="start" stroke="#2020e8" stroke-width="0.06">N (0.0001)</text>
<line x1="509.6" y1="245.6" x2="642" y2="238" stroke="#1f8a1f" stroke-width="0.8" />
<text x="643.7" y="239.5" font-family="Liberation Serif" font-size="5.0" fill="#2020e8" text-anchor="start" stroke="#2020e8" stroke-width="0.06">P (0.001)</text>
<line x1="509.6" y1="245.6" x2="642" y2="239" stroke="#1f8a1f" stroke-width="0.8" />
<text x="645" y="240.5" font-family="Liberation Serif" font-size="5.0" fill="#2020e8" text-anchor="start" stroke="#2020e8" stroke-width="0.06">C (0.01)</text>
<line x1="509.6" y1="245.6" x2="642" y2="240" stroke="#1f8a1f" stroke-width="0.8" />
<text x="644" y="241.6" font-family="Liberation Serif" font-size="5.0" fill="#2020e8" text-anchor="start" stroke="#2020e8" stroke-width="0.06">P (0.0001)</text>
<line x1="509.6" y1="245.6" x2="643.7" y2="243.5" stroke="#1f8a1f" stroke-width="0.8" />
<text x="645.1" y="246.6" font-family="Liberation Serif" font-size="5.0" fill="#2020e8" text-anchor="start" stroke="#2020e8" stroke-width="0.06">E (0.0001)</text>
<text x="571" y="420" font-family="Liberation Serif" font-size="5.0" fill="#2020e8" text-anchor="start" >N (0.001)</text>
<polygon points="476.1,422.8 624.5,411.7 624.5,416.4" fill="#1f8a1f" fill-opacity="0.95" stroke="#1f8a1f" stroke-width="0.5" stroke-linejoin="round" />
<line x1="476.1" y1="422.8" x2="414.9" y2="357.9" stroke="#1f8a1f" stroke-width="0.8" />
<text x="416.7" y="361.7" font-family="Liberation Serif" font-size="5.0" fill="#2020e8" text-anchor="start" stroke="#2020e8" stroke-width="0.06">SP (0.01)</text>
<line x1="476.1" y1="422.8" x2="388" y2="375.4" stroke="#1f8a1f" stroke-width="0.8" />
<text x="390.4" y="377.3" font-family="Liberation Serif" font-size="5.0" fill="#2020e8" text-anchor="start" stroke="#2020e8" stroke-width="0.06">SP (0.001)</text>
<line x1="476.1" y1="422.8" x2="395" y2="380.5" stroke="#1f8a1f" stroke-width="0.8" />
<text x="397.9" y="383.2" font-family="Liberation Serif" font-size="5.0" fill="#2020e8" text-anchor="start" stroke="#2020e8" stroke-width="0.06">SP (0.0001)</text>
<line x1="476.1" y1="422.8" x2="436.4" y2="378.1" stroke="#1f8a1f" stroke-width="0.8" />
<text x="436.9" y="381.4" font-family="Liberation Serif" font-size="5.0" fill="#2020e8" text-anchor="start" stroke="#2020e8" stroke-width="0.06">SP (0.1)</text>
<line x1="476.1" y1="422.8" x2="448" y2="392.4" stroke="#1f8a1f" stroke-width="0.8" />
<text x="448" y="395.3" font-family="Liberation Serif" font-size="5.0" fill="#2020e8" text-anchor="start" stroke="#2020e8" stroke-width="0.06">VR (0.0001)</text>
<line x1="476.1" y1="422.8" x2="503.2" y2="361.7" stroke="#1f8a1f" stroke-width="0.8" />
<text x="504.1" y="365.3" font-family="Liberation Serif" font-size="5.0" fill="#2020e8" text-anchor="start" stroke="#2020e8" stroke-width="0.06">VR (0.1)</text>
<line x1="476.1" y1="422.8" x2="493.2" y2="375.8" stroke="#1f8a1f" stroke-width="0.8" />
<text x="493" y="377" font-family="Liberation Serif" font-size="5.0" fill="#2020e8" text-anchor="end" stroke="#2020e8" stroke-width="0.06">VR (0.01)</text>
<line x1="476.1" y1="422.8" x2="503.2" y2="375.8" stroke="#1f8a1f" stroke-width="0.8" />
<text x="504.1" y="378.9" font-family="Liberation Serif" font-size="5.0" fill="#2020e8" text-anchor="start" stroke="#2020e8" stroke-width="0.06">VR (0.001)</text>
<line x1="476.1" y1="422.8" x2="480.1" y2="483.3" stroke="#1f8a1f" stroke-width="0.8" />
<text x="480.7" y="486.1" font-family="Liberation Serif" font-size="5.0" fill="#2020e8" text-anchor="start" stroke="#2020e8" stroke-width="0.06">L (0.01)</text>
<line x1="476.1" y1="422.8" x2="493.3" y2="431.3" stroke="#1f8a1f" stroke-width="0.8" />
<text x="495.2" y="434.4" font-family="Liberation Serif" font-size="5.0" fill="#2020e8" text-anchor="start" stroke="#2020e8" stroke-width="0.06">L (0.10)</text>
<text x="506.8" y="424.7" font-family="Liberation Serif" font-size="5.0" fill="#2020e8" text-anchor="start" >P (0.0001)</text>
<text x="625" y="417.2" font-family="Liberation Serif" font-size="5.0" fill="#2020e8" text-anchor="start" stroke="#2020e8" stroke-width="0.3">E (0.0001)</text>
<text x="626" y="418.4" font-family="Liberation Serif" font-size="5.0" fill="#2020e8" text-anchor="start" stroke="#2020e8" stroke-width="0.3">C (0.01)</text>
<text x="625.5" y="419.6" font-family="Liberation Serif" font-size="5.0" fill="#2020e8" text-anchor="start" stroke="#2020e8" stroke-width="0.3">N (0.0001)</text>
<text x="627" y="420.6" font-family="Liberation Serif" font-size="5.0" fill="#2020e8" text-anchor="start" stroke="#2020e8" stroke-width="0.3">E (0.01)</text>
<text x="625" y="418" font-family="Liberation Serif" font-size="5.0" fill="#2020e8" text-anchor="start" stroke="#2020e8" stroke-width="0.3">P (0.01)</text>
<line x1="476.1" y1="422.8" x2="624" y2="411.5" stroke="#1f8a1f" stroke-width="0.8" />
<text x="605.8" y="411.7" font-family="Liberation Serif" font-size="5.0" fill="#2020e8" text-anchor="start" stroke="#2020e8" stroke-width="0.06">C (0.001)</text>
<line x1="476.1" y1="422.8" x2="624" y2="413" stroke="#1f8a1f" stroke-width="0.8" />
<text x="625.4" y="415.1" font-family="Liberation Serif" font-size="5.0" fill="#2020e8" text-anchor="start" stroke="#2020e8" stroke-width="0.06">C (0.1)</text>
<line x1="476.1" y1="422.8" x2="624" y2="414" stroke="#1f8a1f" stroke-width="0.8" />
<text x="626" y="416.5" font-family="Liberation Serif" font-size="5.0" fill="#2020e8" text-anchor="start" stroke="#2020e8" stroke-width="0.06">E (0.1)</text>
<line x1="476.1" y1="422.8" x2="624" y2="415" stroke="#1f8a1f" stroke-width="0.8" />
<text x="627" y="417.8" font-family="Liberation Serif" font-size="5.0" fill="#2020e8" text-anchor="start" stroke="#2020e8" stroke-width="0.06">N (0.001)</text>
<line x1="476.1" y1="422.8" x2="624" y2="416" stroke="#1f8a1f" stroke-width="0.8" />
<text x="625" y="419" font-family="Liberation Serif" font-size="5.0" fill="#2020e8" text-anchor="start" stroke="#2020e8" stroke-width="0.06">E (0.0001)</text>
<line x1="476.1" y1="422.8" x2="624" y2="417" stroke="#1f8a1f" stroke-width="0.8" />
<text x="628" y="420.3" font-family="Liberation Serif" font-size="5.0" fill="#2020e8" text-anchor="start" stroke="#2020e8" stroke-width="0.06">N (0.0001)</text>
<line x1="476.1" y1="422.8" x2="624" y2="418" stroke="#1f8a1f" stroke-width="0.8" />
<text x="626" y="421.5" font-family="Liberation Serif" font-size="5.0" fill="#2020e8" text-anchor="start" stroke="#2020e8" stroke-width="0.06">C (0.01)</text>
<line x1="476.1" y1="422.8" x2="623" y2="421.5" stroke="#1f8a1f" stroke-width="0.8" />
<text x="624" y="424.8" font-family="Liberation Serif" font-size="5.0" fill="#2020e8" text-anchor="start" stroke="#2020e8" stroke-width="0.06">P (0.0001)</text>
<line x1="476.1" y1="422.8" x2="620.7" y2="427.5" stroke="#1f8a1f" stroke-width="0.8" />
<text x="622" y="430.9" font-family="Liberation Serif" font-size="5.0" fill="#2020e8" text-anchor="start" stroke="#2020e8" stroke-width="0.06">L (0.0001)</text>
<line x1="476.1" y1="422.8" x2="615" y2="432.5" stroke="#1f8a1f" stroke-width="0.8" />
<text x="616" y="436.1" font-family="Liberation Serif" font-size="5.0" fill="#2020e8" text-anchor="start" stroke="#2020e8" stroke-width="0.06">L (0.001)</text>
<line x1="476.1" y1="422.8" x2="605.8" y2="446.8" stroke="#1f8a1f" stroke-width="0.8" />
<text x="606.9" y="450" font-family="Liberation Serif" font-size="5.0" fill="#2020e8" text-anchor="start" stroke="#2020e8" stroke-width="0.06">P (0.01)</text>
<polygon points="58.7,81.3 91.6,94.6 99.6,121.3 59.6,117.3 47,93" fill="#888" fill-opacity="0.55" stroke="#333" stroke-width="0.8" stroke-linejoin="round" />
<polygon points="65.5,107.9 78.7,117.5 49.4,144.6 50,130 51.8,118.6" fill="#bbb" fill-opacity="0.45" stroke="#777" stroke-width="0.5" stroke-linejoin="round" />
<polygon points="42.7,3.5 36.4,21.1 37.6,47 40.2,79 42.3,47" fill="#f0a860" fill-opacity="0.6" stroke="#e08a3c" stroke-width="0.8" stroke-linejoin="round" />
<polygon points="37.4,38 42.5,38 41.5,60 39.3,60" fill="#ffe080" fill-opacity="0.35" stroke="#e8d060" stroke-width="0.3" stroke-linejoin="round" />
<polygon points="27.7,27.6 20.3,43.5 54.8,117.5" fill="#ff80c8" fill-opacity="0.5" stroke="#ff3fa0" stroke-width="0.9" stroke-linejoin="round" />
<polygon points="67.8,46.7 76.7,70.6 74.2,85.7 58.4,69.6" fill="#7070ff" fill-opacity="0.45" stroke="#3333ee" stroke-width="0.9" stroke-linejoin="round" />
<polygon points="56.3,66.9 69.4,91.5 59,111.4 51.5,125.5 54.5,95" fill="#b050c0" fill-opacity="0.42" stroke="#9020a0" stroke-width="0.8" stroke-linejoin="round" />
<polygon points="53.6,68.5 46.6,92.7 54.7,92" fill="#60c060" fill-opacity="0.4" stroke="#3a9a3a" stroke-width="0.7" stroke-linejoin="round" />
<polygon points="40.2,90.8 40.6,126 43.8,124 42.6,100" fill="#60ffff" fill-opacity="0.4" stroke="#00e0e0" stroke-width="0.8" stroke-linejoin="round" />
<polygon points="38.1,96.3 43.8,123 41,105" fill="#c0b060" fill-opacity="0.4" stroke="#a09040" stroke-width="0.7" stroke-linejoin="round" />
<polygon points="44.3,97 62.8,97.3 59.6,117.2" fill="#ffa020" fill-opacity="0.38" stroke="#f5a000" stroke-width="0.8" stroke-linejoin="round" />
<polygon points="44.3,97 49.6,97 49.6,106.7" fill="#ffff40" fill-opacity="0.35" stroke="#e8e800" stroke-width="0.6" stroke-linejoin="round" />
<polygon points="46,126 61.9,129.9 58,136.7" fill="#ffff60" fill-opacity="0.45" stroke="#e8e800" stroke-width="0.8" stroke-linejoin="round" />
<polygon points="37.4,135.5 49.2,131.4 59.7,144.6 48.7,143.6" fill="#40f0a0" fill-opacity="0.4" stroke="#20e090" stroke-width="0.8" stroke-linejoin="round" />
<polygon points="37.9,138.5 49.2,134.8 41.3,146.5" fill="#f08080" fill-opacity="0.4" stroke="#d03030" stroke-width="0.7" stroke-linejoin="round" />
<line x1="49.6" y1="106.7" x2="57.3" y2="118.4" stroke="#ff00ff" stroke-width="1.0" />
<polygon points="193.1,83.8 254.3,72 335.2,82.4 254.3,83.8" fill="#ff8080" fill-opacity="0.55" stroke="#ee3333" stroke-width="0.7" stroke-linejoin="round" />
<text x="260" y="81.6" font-family="Liberation Serif" font-size="4.8" fill="#e82020" text-anchor="middle" >C16</text>
<text x="39.7" y="43.4" font-family="Liberation Serif" font-size="5.0" fill="#ff1a1a" text-anchor="middle" stroke="#ff1010" stroke-width="0.2">B0</text>
<text x="39.7" y="45.7" font-family="Liberation Serif" font-size="5.0" fill="#ff1a1a" text-anchor="middle" stroke="#ff1010" stroke-width="0.2">B2</text>
<text x="33.2" y="61.1" font-family="Liberation Serif" font-size="5.0" fill="#ff1a1a" text-anchor="middle" stroke="#ff1010" stroke-width="0.2">C14</text>
<text x="69.5" y="70.7" font-family="Liberation Serif" font-size="5.0" fill="#ff1a1a" text-anchor="middle" stroke="#ff1010" stroke-width="0.2">C10</text>
<text x="49.5" y="96.9" font-family="Liberation Serif" font-size="5.0" fill="#ff1a1a" text-anchor="middle" stroke="#ff1010" stroke-width="0.2">C17</text>
<text x="57.5" y="96.9" font-family="Liberation Serif" font-size="5.0" fill="#ff1a1a" text-anchor="middle" stroke="#ff1010" stroke-width="0.2">C18</text>
<text x="38.6" y="107.7" font-family="Liberation Serif" font-size="5.0" fill="#ff1a1a" text-anchor="middle" stroke="#ff1010" stroke-width="0.2">C12</text>
<text x="39.3" y="117" font-family="Liberation Serif" font-size="5.0" fill="#ff1a1a" text-anchor="middle" stroke="#ff1010" stroke-width="0.2">C9</text>
<text x="53.2" y="119.5" font-family="Liberation Serif" font-size="5.0" fill="#ff1a1a" text-anchor="middle" stroke="#ff1010" stroke-width="0.2">C11</text>
<text x="68" y="105.4" font-family="Liberation Serif" font-size="5.0" fill="#ff1a1a" text-anchor="middle" stroke="#ff1010" stroke-width="0.2">SAB</text>
<text x="61.5" y="125.7" font-family="Liberation Serif" font-size="5.0" fill="#ff1a1a" text-anchor="middle" stroke="#ff1010" stroke-width="0.2">SAB-GM</text>
<text x="54.3" y="132.2" font-family="Liberation Serif" font-size="5.0" fill="#ff1a1a" text-anchor="middle" stroke="#ff1010" stroke-width="0.2">TA</text>
<text x="52.5" y="102.5" font-family="Liberation Serif" font-size="5.0" fill="#ff1a1a" text-anchor="middle" stroke="#ff1010" stroke-width="0.2">C1</text>
<text x="53.5" y="105.5" font-family="Liberation Serif" font-size="5.0" fill="#ff1a1a" text-anchor="middle" stroke="#ff1010" stroke-width="0.2">C2</text>
<text x="54" y="108.5" font-family="Liberation Serif" font-size="5.0" fill="#ff1a1a" text-anchor="middle" stroke="#ff1010" stroke-width="0.2">C3</text>
<text x="44.5" y="140" font-family="Liberation Serif" font-size="5.0" fill="#ff1a1a" text-anchor="middle" stroke="#ff1010" stroke-width="0.2">C5</text>
<text x="51.4" y="139.9" font-family="Liberation Serif" font-size="5.0" fill="#ff1a1a" text-anchor="middle" stroke="#ff1010" stroke-width="0.2">C8</text>
<polygon points="41.1,187.6 54.6,214.2 56.5,240 57.6,257 52,252 46,225 41.5,200" fill="#888" fill-opacity="0.62" stroke="#333" stroke-width="0.8" stroke-linejoin="round" />
<polygon points="37.6,195.8 41.7,196 41.7,211 37.6,208" fill="#bbb" fill-opacity="0.45" stroke="#777" stroke-width="0.5" stroke-linejoin="round" />
<polygon points="38.2,178.2 41.1,193.5 39.5,192" fill="#40f0a0" fill-opacity="0.6" stroke="#20e090" stroke-width="0.8" stroke-linejoin="round" />
<polygon points="32.3,187.6 27.3,201.1 35,209.9 38.8,197" fill="#c8c890" fill-opacity="0.5" stroke="#9a9a50" stroke-width="0.7" stroke-linejoin="round" />
<line x1="31.7" y1="178.8" x2="39.4" y2="208.7" stroke="#c04040" stroke-width="0.8" />
<polygon points="44.7,207.3 28.2,223.8 35.3,255.5 40.5,234" fill="#ff80c8" fill-opacity="0.5" stroke="#ff3fa0" stroke-width="0.9" stroke-linejoin="round" />
<polygon points="47,220 51.7,220 51,252 47.5,252" fill="#60ffff" fill-opacity="0.5" stroke="#00d0d0" stroke-width="0.6" stroke-linejoin="round" />
<polygon points="38.8,213 46,209 50.5,212 50,231 41,229" fill="#9040c0" fill-opacity="0.45" stroke="#8020b0" stroke-width="0.6" stroke-linejoin="round" />
<line x1="47.6" y1="203.5" x2="43.8" y2="226" stroke="#f0f000" stroke-width="1.6" />
<polygon points="48.8,242.6 55.2,239 55.8,247.3" fill="#ff40ff" fill-opacity="0.5" stroke="#e000e0" stroke-width="0.8" stroke-linejoin="round" />
<polygon points="44.4,244.8 75.7,272.7 54.1,278.5" fill="#f0a070" fill-opacity="0.45" stroke="#e8965a" stroke-width="0.8" stroke-linejoin="round" />
<polygon points="44.3,244.9 49.7,276.2 53.6,277.2 47,246" fill="#ffff80" fill-opacity="0.3" stroke="#e8e860" stroke-width="0.6" stroke-linejoin="round" />
<polygon points="47.7,240 51.6,240 51.6,275 48.5,275" fill="#60c060" fill-opacity="0.35" stroke="#3a9a3a" stroke-width="0.6" stroke-linejoin="round" />
<polygon points="52.6,245.9 58,247 57,258.6 53,255" fill="#ffa020" fill-opacity="0.4" stroke="#ff9900" stroke-width="0.6" stroke-linejoin="round" />
<polygon points="58.7,279.4 69.7,311.5 49.3,306.7" fill="#7070ff" fill-opacity="0.45" stroke="#3333ee" stroke-width="0.9" stroke-linejoin="round" />
<polygon points="209.9,237.4 265.6,209.6 337.2,196.8 288.7,223.2" fill="#ff8080" fill-opacity="0.55" stroke="#ee3333" stroke-width="0.7" stroke-linejoin="round" />
<text x="276.4" y="218.6" font-family="Liberation Serif" font-size="4.8" fill="#e82020" text-anchor="middle" >C16</text>
<text x="40" y="183.8" font-family="Liberation Serif" font-size="5.0" fill="#ff1a1a" text-anchor="middle" stroke="#ff1010" stroke-width="0.2">C18</text>
<text x="35.3" y="194.5" font-family="Liberation Serif" font-size="5.0" fill="#ff1a1a" text-anchor="middle" stroke="#ff1010" stroke-width="0.2">C9</text>
<text x="32.3" y="199.2" font-family="Liberation Serif" font-size="5.0" fill="#ff1a1a" text-anchor="middle" stroke="#ff1010" stroke-width="0.2">C11</text>
<text x="35.3" y="230.6" font-family="Liberation Serif" font-size="5.0" fill="#ff1a1a" text-anchor="middle" stroke="#ff1010" stroke-width="0.2">C14</text>
<text x="46.4" y="219.6" font-family="Liberation Serif" font-size="5.0" fill="#ff1a1a" text-anchor="middle" stroke="#ff1010" stroke-width="0.2">SAB-GM</text>
<text x="45.8" y="226.6" font-family="Liberation Serif" font-size="5.0" fill="#ff1a1a" text-anchor="middle" stroke="#ff1010" stroke-width="0.2">C17</text>
<text x="48.7" y="233.6" font-family="Liberation Serif" font-size="5.0" fill="#ff1a1a" text-anchor="middle" stroke="#ff1010" stroke-width="0.2">SAB</text>
<text x="44.5" y="223.5" font-family="Liberation Serif" font-size="5.0" fill="#ff1a1a" text-anchor="middle" stroke="#ff1010" stroke-width="0.2">C12</text>
<text x="46.5" y="225" font-family="Liberation Serif" font-size="5.0" fill="#ff1a1a" text-anchor="middle" stroke="#ff1010" stroke-width="0.2">C2</text>
<text x="51.5" y="245.3" font-family="Liberation Serif" font-size="5.0" fill="#ff1a1a" text-anchor="middle" stroke="#ff1010" stroke-width="0.2">C9</text>
<text x="56.3" y="264" font-family="Liberation Serif" font-size="5.0" fill="#ff1a1a" text-anchor="middle" stroke="#ff1010" stroke-width="0.2">B2</text>
<text x="49" y="269.5" font-family="Liberation Serif" font-size="5.0" fill="#ff1a1a" text-anchor="middle" stroke="#ff1010" stroke-width="0.2">B1</text>
<text x="58" y="301.2" font-family="Liberation Serif" font-size="5.0" fill="#ff1a1a" text-anchor="middle" stroke="#ff1010" stroke-width="0.2">C10</text>
<polygon points="35.3,349.5 37.5,350.5 47,387 52,434 50,436.5 46.5,434 40.5,387" fill="#909090" fill-opacity="0.6" stroke="#444" stroke-width="0.7" stroke-linejoin="round" />
<line x1="36.4" y1="351" x2="49" y2="434" stroke="#555" stroke-width="0.5" />
<polygon points="33.7,342 35.7,361.5 34.5,361" fill="#40f0a0" fill-opacity="0.6" stroke="#20e090" stroke-width="0.8" stroke-linejoin="round" />
<polygon points="30.3,354.2 27.3,365 31.5,376.2 34.7,364.5" fill="#c8c890" fill-opacity="0.5" stroke="#9a9a50" stroke-width="0.7" stroke-linejoin="round" />
<line x1="29.3" y1="349.3" x2="38.1" y2="375.2" stroke="#c04040" stroke-width="0.8" />
<polygon points="40.5,372.8 27.3,389.3 33.2,413.3 39.1,391.7" fill="#ff80c8" fill-opacity="0.5" stroke="#ff3fa0" stroke-width="0.9" stroke-linejoin="round" />
<polygon points="39,389.8 42,389.8 44,418.2 40.5,418" fill="#60ffff" fill-opacity="0.5" stroke="#00d0d0" stroke-width="0.6" stroke-linejoin="round" />
<line x1="45.6" y1="376.2" x2="41.3" y2="400.5" stroke="#f0f000" stroke-width="1.6" />
<polygon points="43.5,394.3 48.7,398.7 45,401" fill="#9040c0" fill-opacity="0.5" stroke="#8020b0" stroke-width="0.6" stroke-linejoin="round" />
<polygon points="59.6,405 65,417.2 55.2,411.3" fill="#e8e8e8" fill-opacity="0.5" stroke="#b0b0b0" stroke-width="0.7" stroke-linejoin="round" />
<polygon points="46.9,413 52.3,411.3 52.3,418.2" fill="#ff40ff" fill-opacity="0.5" stroke="#e000e0" stroke-width="0.8" stroke-linejoin="round" />
<polygon points="58.5,418 52,425 52.8,459.5" fill="#60c060" fill-opacity="0.45" stroke="#3a9a3a" stroke-width="0.7" stroke-linejoin="round" />
<polygon points="56,428 58.8,430 57,437.8" fill="#ffa020" fill-opacity="0.5" stroke="#ff9900" stroke-width="0.6" stroke-linejoin="round" />
<polygon points="44,420 46.5,418 50,435 47,436" fill="#a06030" fill-opacity="0.5" stroke="#604020" stroke-width="0.6" stroke-linejoin="round" />
<polygon points="40,420 44,418 46,436 42,432" fill="#ffe0a0" fill-opacity="0.35" stroke="#f0d080" stroke-width="0.5" stroke-linejoin="round" />
<polygon points="52.1,450 52.4,462 50.8,478.5 45.5,484.8 47.3,475 49.5,462" fill="#7070ff" fill-opacity="0.45" stroke="#2222ee" stroke-width="0.8" stroke-linejoin="round" />
<line x1="51.5" y1="455" x2="46.5" y2="482" stroke="#3333ee" stroke-width="0.5" />
<polygon points="208.3,400.5 273,382.1 326.2,374.4 275.1,385.4" fill="#ff8080" fill-opacity="0.45" stroke="#ee3333" stroke-width="0.7" stroke-linejoin="round" />
<text x="268.9" y="386.8" font-family="Liberation Serif" font-size="4.6" fill="#e82020" text-anchor="middle" >C16</text>
<text x="33.5" y="351.4" font-family="Liberation Serif" font-size="4.5" fill="#ff1a1a" text-anchor="middle" stroke="#ff1010" stroke-width="0.2">C18</text>
<text x="32.2" y="365.1" font-family="Liberation Serif" font-size="4.5" fill="#ff1a1a" text-anchor="middle" stroke="#ff1010" stroke-width="0.2">C9</text>
<text x="30.5" y="367.4" font-family="Liberation Serif" font-size="4.5" fill="#ff1a1a" text-anchor="middle" stroke="#ff1010" stroke-width="0.2">C11</text>
<text x="32" y="393.3" font-family="Liberation Serif" font-size="4.5" fill="#ff1a1a" text-anchor="middle" stroke="#ff1010" stroke-width="0.2">C14</text>
<text x="44" y="390.9" font-family="Liberation Serif" font-size="4.5" fill="#ff1a1a" text-anchor="middle" stroke="#ff1010" stroke-width="0.2">SAB-GM</text>
<text x="43.9" y="403.6" font-family="Liberation Serif" font-size="4.5" fill="#ff1a1a" text-anchor="middle" stroke="#ff1010" stroke-width="0.2">SAB</text>
<text x="40.5" y="403.3" font-family="Liberation Serif" font-size="4.5" fill="#ff1a1a" text-anchor="middle" stroke="#ff1010" stroke-width="0.2">C17</text>
<text x="59.2" y="413.6" font-family="Liberation Serif" font-size="4.5" fill="#ff1a1a" text-anchor="middle" stroke="#ff1010" stroke-width="0.2">C14</text>
<text x="48.8" y="417.3" font-family="Liberation Serif" font-size="4.5" fill="#ff1a1a" text-anchor="middle" stroke="#ff1010" stroke-width="0.2">C9</text>
<text x="47.1" y="423.6" font-family="Liberation Serif" font-size="4.5" fill="#ff1a1a" text-anchor="middle" stroke="#ff1010" stroke-width="0.2">B2</text>
<text x="42.7" y="429.6" font-family="Liberation Serif" font-size="4.5" fill="#ff1a1a" text-anchor="middle" stroke="#ff1010" stroke-width="0.2">B1</text>
<text x="55" y="433.3" font-family="Liberation Serif" font-size="4.5" fill="#ff1a1a" text-anchor="middle" stroke="#ff1010" stroke-width="0.2">C1</text>
<text x="49" y="474.6" font-family="Liberation Serif" font-size="4.5" fill="#ff1a1a" text-anchor="middle" stroke="#ff1010" stroke-width="0.2">C10</text>
</svg>
</body></html>
